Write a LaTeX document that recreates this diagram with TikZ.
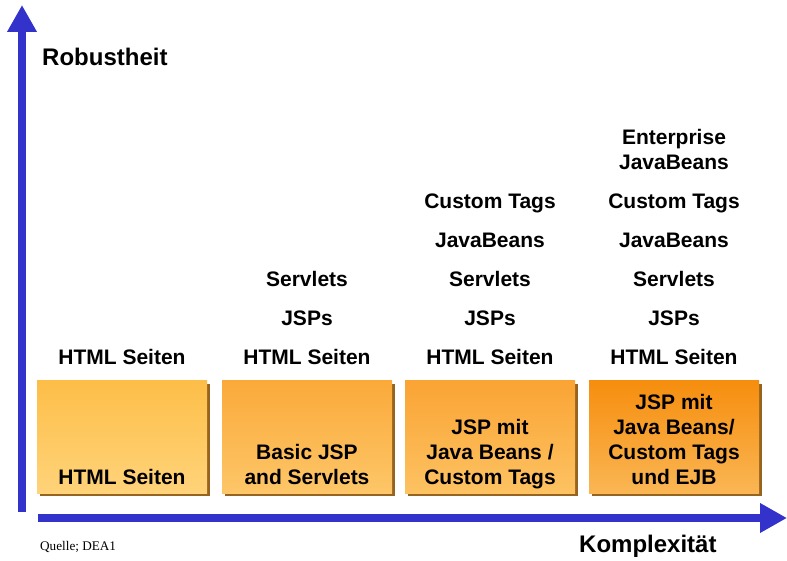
\documentclass[tikz,border=0pt]{standalone}
\usepackage{fontspec}
\setmainfont{Liberation Sans}
\newfontfamily\quellefont{Liberation Serif}
\usetikzlibrary{arrows.meta,positioning,shadows}
\definecolor{axisblue}{RGB}{51,51,204}
\definecolor{shadowbrown}{RGB}{150,100,30}

\begin{document}
\begin{tikzpicture}[x=1pt, y=1pt, node distance=39pt,
    font=\bfseries\fontsize{21}{25}\selectfont]
    \tikzstyle{axis}=[line width=8pt, draw=axisblue, -{Triangle[width=28pt,length=27pt]}]
    \tikzstyle{stage}=[minimum width=170pt, minimum height=112pt, inner sep=0pt,
        drop shadow={shadow xshift=3pt, shadow yshift=-3pt, fill=shadowbrown, opacity=1}]
    \tikzstyle{boxtext}=[anchor=south, align=center, inner sep=0pt]
    \tikzstyle{tech}=[text height=15pt, text depth=0pt, inner sep=0pt]
    \useasboundingbox (0,0) rectangle (787,560);

    % axes
    \coordinate (origin) at (22,48);
    \coordinate (ytop)   at (22,555);
    \coordinate (xstart) at (38,42);
    \coordinate (xend)   at (787,42);
    \draw[axis] (origin) -- (ytop);
    \draw[axis] (xstart) -- (xend);
    \node[anchor=west, inner sep=0pt, font=\bfseries\fontsize{24}{28}\selectfont] (rob) at (42,503) {Robustheit};
    \node[anchor=west, inner sep=0pt, font=\bfseries\fontsize{24}{28}\selectfont] (kom) at (579,14) {Komplexität};
    \node[anchor=west, inner sep=0pt, font=\quellefont\fontsize{13.2}{15}\selectfont] (src) at (40,13) {Quelle; DEA1};

    % stages
    \node[stage, top color={rgb,255:red,253;green,190;blue,72}, bottom color={rgb,255:red,255;green,211;blue,122}] (b1) at (122,123) {};
    \node[stage, top color={rgb,255:red,251;green,170;blue,58}, bottom color={rgb,255:red,253;green,198;blue,104}] (b2) at (307,123) {};
    \node[stage, top color={rgb,255:red,250;green,164;blue,52}, bottom color={rgb,255:red,253;green,194;blue,98}] (b3) at (490,123) {};
    \node[stage, top color={rgb,255:red,246;green,142;blue,14}, bottom color={rgb,255:red,250;green,182;blue,84}] (b4) at (674,123) {};

    \node[boxtext] (t1) at ([yshift=1.5pt]b1.south) {HTML Seiten\strut};
    \node[boxtext] (t2) at ([yshift=1.5pt]b2.south) {Basic JSP\\and Servlets\strut};
    \node[boxtext] (t3) at ([yshift=1.5pt]b3.south) {JSP mit\\Java Beans /\\Custom Tags\strut};
    \node[boxtext] (t4) at ([yshift=1.5pt]b4.south) {JSP mit\\Java Beans/\\Custom Tags\\und EJB\strut};

    % technologies
    \node[tech] (h1) at (122,202.5) {HTML Seiten};

    \node[tech] (h2) at (307,202.5) {HTML Seiten};
    \node[tech] (j2) [above of=h2] {JSPs};
    \node[tech] (s2) [above of=j2] {Servlets};

    \node[tech] (h3) at (490,202.5) {HTML Seiten};
    \node[tech] (j3) [above of=h3] {JSPs};
    \node[tech] (s3) [above of=j3] {Servlets};
    \node[tech] (jb3)[above of=s3] {JavaBeans};
    \node[tech] (ct3)[above of=jb3] {Custom Tags};

    \node[tech] (h4) at (674,202.5) {HTML Seiten};
    \node[tech] (j4) [above of=h4] {JSPs};
    \node[tech] (s4) [above of=j4] {Servlets};
    \node[tech] (jb4)[above of=s4] {JavaBeans};
    \node[tech] (ct4)[above of=jb4] {Custom Tags};
    \node[align=center, inner sep=0pt] (ejb4) [above of=ct4, yshift=13pt] {Enterprise\\JavaBeans};
\end{tikzpicture}
\end{document}
